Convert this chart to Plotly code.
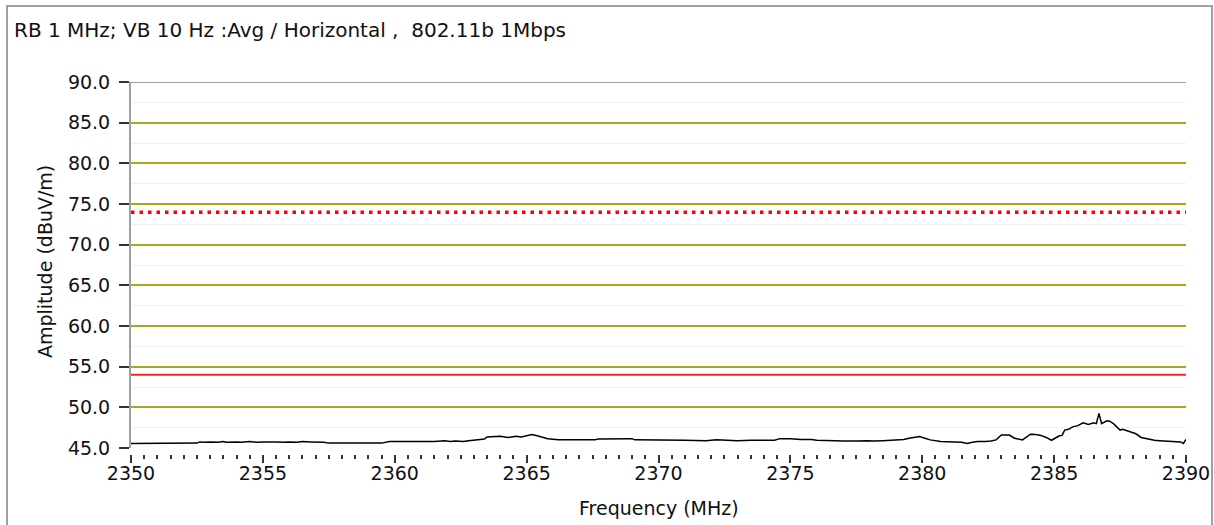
import plotly.graph_objects as go

# ---- data ----
freq_mhz = [2350.0, 2351.0, 2352.0, 2352.5, 2352.6, 2352.8, 2353.0, 2353.3, 2353.5, 2353.6,
            2354.0, 2354.2, 2354.5, 2354.8, 2355.0, 2355.3, 2355.5, 2355.8, 2356.0, 2356.3,
            2356.5, 2356.8, 2357.0, 2357.3, 2357.5, 2358.5, 2359.5, 2359.8, 2360.5, 2361.5,
            2361.9, 2362.1, 2362.3, 2362.6, 2362.8, 2363.2, 2363.4, 2363.5, 2363.8, 2364.0,
            2364.3, 2364.6, 2364.8, 2365.0, 2365.2, 2365.4, 2365.5, 2365.8, 2366.2, 2367.0,
            2367.6, 2367.7, 2367.9, 2368.4, 2369.0, 2369.1, 2369.4, 2370.0, 2371.0, 2371.8,
            2372.2, 2372.6, 2373.0, 2373.5, 2374.4, 2374.6, 2375.0, 2375.4, 2375.8, 2376.0,
            2376.5, 2376.7, 2377.0, 2377.3, 2377.5, 2377.9, 2378.2, 2378.5, 2378.8, 2379.0,
            2379.3, 2379.5, 2379.9, 2380.1, 2380.3, 2380.7, 2380.9, 2381.2, 2381.5, 2381.7,
            2381.9, 2382.1, 2382.4, 2382.6, 2382.8, 2383.0, 2383.3, 2383.5, 2383.8, 2384.1,
            2384.3, 2384.5, 2384.7, 2384.9, 2385.2, 2385.3, 2385.4, 2385.55, 2385.7, 2385.9,
            2386.1, 2386.3, 2386.5, 2386.6, 2386.7, 2386.8, 2387.0, 2387.1, 2387.25, 2387.5,
            2387.6, 2387.9, 2388.1, 2388.3, 2388.5, 2388.8, 2389.0, 2389.3, 2389.6, 2389.8,
            2389.9, 2390.0]
amp_dbuv = [45.55, 45.55, 45.55, 45.6, 45.75, 45.7, 45.75, 45.7, 45.8, 45.7,
            45.75, 45.7, 45.8, 45.7, 45.75, 45.8, 45.75, 45.7, 45.75, 45.7,
            45.8, 45.75, 45.75, 45.7, 45.6, 45.6, 45.6, 45.8, 45.8, 45.8,
            45.9, 45.8, 45.85, 45.8, 45.9, 46.0, 46.1, 46.35, 46.45, 46.45,
            46.3, 46.45, 46.35, 46.5, 46.65, 46.5, 46.4, 46.15, 46.0, 46.0,
            46.0, 46.1, 46.1, 46.15, 46.15, 46.0, 46.0, 45.95, 45.95, 45.9,
            46.0, 45.95, 45.9, 45.95, 45.95, 46.15, 46.15, 46.05, 46.05, 45.95,
            45.85, 45.9, 45.85, 45.9, 45.85, 45.9, 45.85, 45.9, 45.95, 45.95,
            46.05, 46.2, 46.4, 46.2, 46.0, 45.8, 45.8, 45.75, 45.7, 45.55,
            45.7, 45.8, 45.8, 45.85, 46.0, 46.6, 46.6, 46.2, 46.0, 46.7,
            46.65, 46.55, 46.3, 45.95, 46.5, 46.55, 47.2, 47.3, 47.6, 47.75,
            48.1, 47.9, 48.1, 48.0, 49.25, 48.0, 48.35, 48.3, 48.0, 47.2,
            47.3, 47.0, 46.75, 46.3, 46.15, 45.95, 45.9, 45.85, 45.8, 45.75,
            45.55, 46.05]

limit_peak = 74.0   # dotted red
limit_avg = 54.0    # solid red
x_range = [2350, 2390]
y_range = [45, 90]
title_text = "RB 1 MHz; VB 10 Hz :Avg / Horizontal ,  802.11b 1Mbps"
x_title = "Frequency (MHz)"
y_title = "Amplitude (dBuV/m)"

# ---- layout geometry ----
W, H = 1214, 525
ML, MR, MT, MB = 131, 28, 82, 71
PW = W - ML - MR
PH = H - MT - MB


def px(xp):
    return (xp - ML) / PW


def py(yp):
    return (H - MB - yp) / PH


FONT = "DejaVu Sans"
FS = 19
OLIVE = "#a8a820"
GREY = "#a0a0a0"

fig = go.Figure()

fig.add_trace(go.Scatter(x=freq_mhz, y=amp_dbuv, mode="lines",
                         line=dict(color="black", width=1.5), showlegend=False,
                         hoverinfo="skip"))
fig.add_trace(go.Scatter(x=x_range, y=[limit_avg, limit_avg], mode="lines",
                         line=dict(color="#ff2020", width=2), showlegend=False))
fig.add_trace(go.Scatter(x=x_range, y=[limit_peak, limit_peak], mode="lines",
                         line=dict(color="#ff0000", width=3.5, dash="3.5px,5px"),
                         showlegend=False))

fig.update_layout(
    width=W, height=H, autosize=False,
    margin=dict(l=ML, r=MR, t=MT, b=MB, autoexpand=False),
    paper_bgcolor="white", plot_bgcolor="white",
    font=dict(family=FONT, size=FS, color="#111"),
    xaxis=dict(range=x_range, anchor="free", position=0, showgrid=False,
               automargin=False, ticklabeloverflow="allow",
               zeroline=False, showline=False, dtick=5, tick0=2350,
               ticks="outside", ticklen=8, tickwidth=2, tickcolor="#333",
               ticklabelstandoff=-6,
               minor=dict(dtick=0.5, ticks="outside", ticklen=4, tickwidth=1.5,
                          tickcolor="#333", showgrid=False),
               tickfont=dict(family=FONT, size=FS)),
    yaxis=dict(range=y_range, domain=[6 / PH, 1], dtick=5, tick0=45,
               automargin=False,
               tickformat=".1f", showgrid=True, gridcolor=OLIVE, gridwidth=2,
               zeroline=False, showline=True, linecolor=GREY, linewidth=2,
               ticks="outside", ticklen=10, tickwidth=1.5, tickcolor="#333",
               ticklabelstandoff=5,
               minor=dict(dtick=2.5, showgrid=True, gridcolor="#f0f0f0",
                          gridwidth=1),
               tickfont=dict(family=FONT, size=FS)),
    annotations=[
        dict(text=title_text, xref="paper", yref="paper", x=px(12), y=py(30),
             xanchor="left", yanchor="middle", showarrow=False,
             font=dict(family=FONT, size=20, color="#111")),
        dict(text=x_title, xref="paper", yref="paper", x=px(659), y=py(508),
             xanchor="center", yanchor="middle", showarrow=False,
             font=dict(family=FONT, size=FS, color="#111")),
        dict(text=y_title, xref="paper", yref="paper", x=px(45), y=py(262),
             xanchor="center", yanchor="middle", showarrow=False, textangle=-90,
             font=dict(family=FONT, size=FS, color="#111")),
    ],
    shapes=[
        # outer frame
        dict(type="rect", xref="paper", yref="paper", x0=px(7), x1=px(1212),
             y0=py(540), y1=py(6), line=dict(color=GREY, width=2)),
        # top border of plot at 90
        dict(type="line", xref="paper", yref="y", x0=0, x1=1, y0=y_range[1],
             y1=y_range[1], line=dict(color=GREY, width=2)),
        # hide gridline at the bottom edge
        dict(type="line", xref="paper", yref="y", x0=0.002, x1=1, y0=y_range[0],
             y1=y_range[0], line=dict(color="white", width=3), layer="between"),
    ],
)

fig.write_html("out.html",
               config={"displayModeBar": False, "responsive": False},
               post_script="document.body.style.margin='0';"
                           "document.body.style.overflow='hidden';")
